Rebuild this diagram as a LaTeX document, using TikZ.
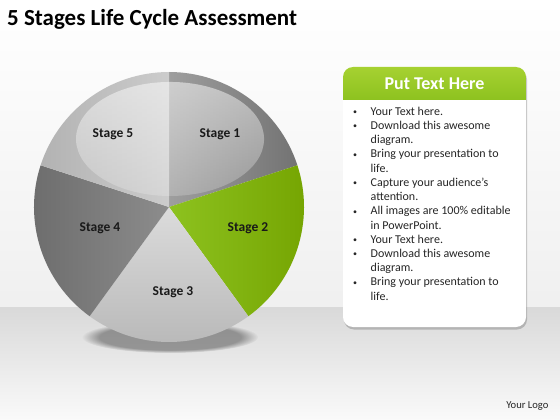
\documentclass[tikz,border=0pt]{standalone}
\usepackage{fontspec}
\setmainfont{Carlito}
\usetikzlibrary{shadows,fadings}

\definecolor{leafgreen}{HTML}{8DC21F}
\definecolor{leafdark}{HTML}{74A300}
\definecolor{leaflight}{HTML}{A6D131}
\definecolor{listgray}{HTML}{262626}

\tikzfading[name=glossfade, top color=transparent!50, bottom color=transparent!80]

\tikzset{
  stagelabel/.style={font=\bfseries\fontsize{13.5}{15}\selectfont, text=black!90},
  textbox/.style={fill=white, rounded corners=10pt,
    drop shadow={shadow xshift=1pt, shadow yshift=-2.5pt, opacity=0.45}},
  headbar/.style={top color=leaflight, bottom color=leafgreen},
  gloss/.style={fill=white, path fading=glossfade},
}
\newcommand{\bt}{\makebox[14pt]{\fontsize{8}{8}\selectfont\raisebox{0.5pt}{\textbullet}}}

\begin{document}
\begin{tikzpicture}[x=1pt,y=-1pt]
\useasboundingbox (0,0) rectangle (560,420);

% backdrop and floor
\shade[top color=white, bottom color=black!6] (0,0) rectangle (560,307);
\shade[top color=black!15, bottom color=black!2] (0,307) rectangle (560,420);

\node[anchor=base west, inner sep=0, font=\bfseries\fontsize{23}{26}\selectfont] (title) at (7,26) {5 Stages Life Cycle Assessment};

% pie
\fill[black, opacity=0.35, path fading=circle with fuzzy edge 20 percent] (170,337) ellipse (88 and 16);
\coordinate (c) at (169,207);
\shade[left color=black!38, right color=black!55] (c) -- ++(-90:135) arc (-90:-18:135) -- cycle;
\shade[left color=leafgreen, right color=leafdark] (c) -- ++(-18:135) arc (-18:54:135) -- cycle;
\shade[top color=black!14, bottom color=black!28] (c) -- ++(54:135) arc (54:126:135) -- cycle;
\shade[left color=black!58, right color=black!45] (c) -- ++(126:135) arc (126:198:135) -- cycle;
\shade[left color=black!30, right color=black!20] (c) -- ++(198:135) arc (198:270:135) -- cycle;
\begin{scope}
\clip (c) circle (135);
\fill[gloss] (170,139) ellipse (94 and 57);
\end{scope}

\node[stagelabel] (s1) at (220,134) {Stage 1};
\node[stagelabel] (s2) at (248,228) {Stage 2};
\node[stagelabel] (s3) at (173,292) {Stage 3};
\node[stagelabel] (s4) at (100,228) {Stage 4};
\node[stagelabel] (s5) at (113,134) {Stage 5};

% text panel
\path[textbox] (343,67) rectangle (526,327);
\begin{scope}
\clip[rounded corners=10pt] (343,67) rectangle (526,327);
\shade[headbar] (343,67) rectangle (526,100);
\end{scope}
\node[text=white, font=\bfseries\fontsize{18}{20}\selectfont] (head) at (434.5,84) {Put Text Here};
\node[anchor=north west, inner sep=0, text=listgray, font=\fontsize{12}{14.23}\selectfont] (list) at (348,105) {%
\begin{tabular}{@{}l@{\hspace{8.5pt}}l@{}}
\bt & Your Text here.\\
\bt & Download this awesome\\
 & diagram.\\
\bt & Bring your presentation to\\
 & life.\\
\bt & Capture your audience’s\\
 & attention.\\
\bt & All images are 100\% editable\\
 & in PowerPoint.\\
\bt & Your Text here.\\
\bt & Download this awesome\\
 & diagram.\\
\bt & Bring your presentation to\\
 & life.
\end{tabular}};

\node[anchor=east, text=listgray, font=\fontsize{10.6}{12}\selectfont] (logo) at (552,406) {Your Logo};

\end{tikzpicture}
\end{document}
